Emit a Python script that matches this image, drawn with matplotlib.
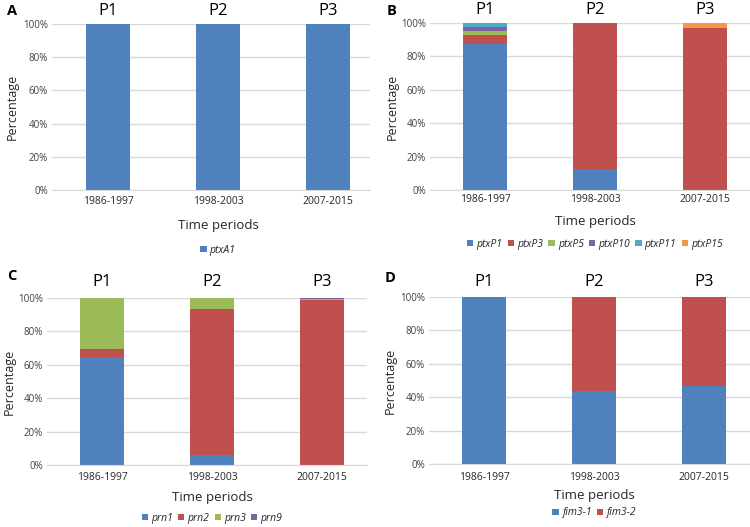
import matplotlib
matplotlib.use("Agg")
import matplotlib.pyplot as plt
import numpy as np

plt.rcParams['font.family'] = ['Open Sans', 'DejaVu Sans']

periods = ["1986-1997", "1998-2003", "2007-2015"]
period_labels = ["P1", "P2", "P3"]

# Panel A
a_names = ["ptxA1"]
a_vals = [[100, 100, 100]]
# Panel B
b_names = ["ptxP1", "ptxP3", "ptxP5", "ptxP10", "ptxP11", "ptxP15"]
b_vals = [
    [87.2, 12.6, 0.0],
    [5.6, 87.4, 97.2],
    [2.4, 0.0, 0.0],
    [2.4, 0.0, 0.0],
    [2.4, 0.0, 0.0],
    [0.0, 0.0, 2.8],
]
# Panel C
c_names = ["prn1", "prn2", "prn3", "prn9"]
c_vals = [
    [64.4, 6.0, 0.0],
    [5.2, 87.6, 98.8],
    [30.4, 6.4, 0.4],
    [0.0, 0.0, 0.8],
]
# Panel D
d_names = ["fim3-1", "fim3-2"]
d_vals = [
    [100.0, 43.8, 46.8],
    [0.0, 56.2, 53.2],
]

colors = ["#4F81BD", "#C0504D", "#9BBB59", "#8064A2", "#4BACC6", "#F79646"]
W, H = 750, 527
fig = plt.figure(figsize=(7.5, 5.27), dpi=100)

def fx(px):
    return px / W

def fy(py):
    return 1 - py / H

panels = [
    dict(letter="A", names=a_names, vals=a_vals, x0=52, x1=370, c0=108, ytop=24, ybot=190,
         lx=12, ly=11, py=11, ty=202, xly=225, lgy=250, ylx=12),
    dict(letter="B", names=b_names, vals=b_vals, x0=430, x1=750, c0=485, ytop=23, ybot=190,
         lx=392, ly=11, py=10, ty=200, xly=221, lgy=244, ylx=392),
    dict(letter="C", names=c_names, vals=c_vals, x0=47, x1=367, c0=102, ytop=298, ybot=465,
         lx=12, ly=276, py=282, ty=478, xly=497, lgy=518, ylx=9),
    dict(letter="D", names=d_names, vals=d_vals, x0=429, x1=750, c0=484, ytop=297, ybot=464,
         lx=390, ly=278, py=282, ty=477, xly=495, lgy=513, ylx=390),
]

spacing = 110.0
for p in panels:
    ax = fig.add_axes([fx(p["x0"]), fy(p["ybot"]), fx(p["x1"] - p["x0"]), (p["ybot"] - p["ytop"]) / H])
    x = np.arange(len(periods))
    bottom = np.zeros(len(periods))
    handles = []
    for i, (name, v) in enumerate(zip(p["names"], p["vals"])):
        v = np.array(v, dtype=float)
        b = ax.bar(x, v, 0.4, bottom=bottom, color=colors[i], label=name, zorder=3)
        handles.append(b)
        bottom += v
    left = -(p["c0"] - p["x0"]) / spacing
    right = (p["x1"] - p["c0"]) / spacing
    ax.set_xlim(left, right)
    ax.set_ylim(0, 100)
    ax.set_yticks([0, 20, 40, 60, 80, 100])
    ax.set_yticklabels(["0%", "20%", "40%", "60%", "80%", "100%"], fontsize=7, color="#404040")
    ax.set_xticks(x)
    ax.set_xticklabels([])
    ax.yaxis.grid(True, color="#D9D9D9", linewidth=1, zorder=0)
    ax.tick_params(length=0, pad=3)
    for s in ["top", "right", "left"]:
        ax.spines[s].set_visible(False)
    ax.spines["bottom"].set_color("#D9D9D9")
    ax.spines["bottom"].set_zorder(4)
    ax.patch.set_alpha(0)

    for i in range(len(periods)):
        cx = p["c0"] + i * spacing
        fig.text(fx(cx), fy(p["ty"]), periods[i], ha="center", va="center", fontsize=7.5, color="#262626")
        fig.text(fx(cx), fy(p["py"]), period_labels[i], ha="center", va="center", fontsize=12, color="#000000")
    midx = p["c0"] + spacing
    fig.text(fx(midx), fy(p["xly"]), "Time periods", ha="center", va="center", fontsize=9.5, color="#262626")
    fig.text(fx(p["ylx"]), fy((p["ytop"] + p["ybot"]) / 2), "Percentage", ha="center", va="center",
             rotation=90, fontsize=9, color="#262626")
    fig.text(fx(p["lx"]), fy(p["ly"]), p["letter"], ha="center", va="center", fontsize=10.5,
             fontweight="bold", color="#000000")
    leg = fig.legend(handles=handles, labels=p["names"], loc="center",
                     bbox_to_anchor=(fx(midx), fy(p["lgy"])), ncol=len(p["names"]), frameon=False,
                     handlelength=0.6, handleheight=0.6, handletextpad=0.3, columnspacing=0.5,
                     borderpad=0, prop=dict(style="italic", size=7.5))
    for t in leg.get_texts():
        t.set_color("#262626")

fig.savefig("out.png", dpi=100)
